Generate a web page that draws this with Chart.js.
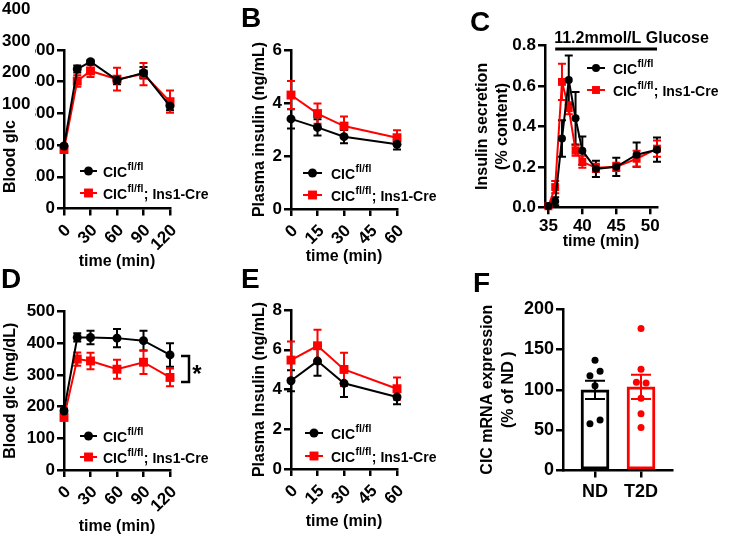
<!DOCTYPE html>
<html>
<head>
<meta charset="utf-8">
<script src="https://cdn.jsdelivr.net/npm/chart.js@4.4.1/dist/chart.umd.min.js"></script>
<style>
  html, body { margin: 0; padding: 0; background: #fff; }
  #wrap { position: relative; width: 733px; height: 541px; }
  #wrap canvas { position: absolute; left: 0; top: 0; }
</style>
</head>
<body>
<div id="wrap">
  <canvas id="panelA" width="733" height="541"></canvas>
  <canvas id="panelB" width="733" height="541"></canvas>
  <canvas id="panelC" width="733" height="541"></canvas>
  <canvas id="panelD" width="733" height="541"></canvas>
  <canvas id="panelE" width="733" height="541"></canvas>
  <canvas id="panelF" width="733" height="541"></canvas>
</div>
<script>
// ---- data ----
const seriesNames = [['CIC', 'fl/fl', ''], ['CIC', 'fl/fl', '; Ins1-Cre']];

// A: glucose tolerance (chow)
const gttTime = [0, 15, 30, 60, 90, 120];
const gttTicks = [0, 30, 60, 90, 120];
const gttCtl = [197, 440, 463, 405, 428, 323];
const gttCtlErr = [5, 11, 5, 13, 18, 13];
const gttKo = [186, 402, 434, 408, 424, 337];
const gttKoErr = [6, 18, 19, 36, 35, 35];
const glcTicks = [0, 100, 200, 300, 400, 500];
const strayTicks = ['400', '300', '200', '100'];

// B: plasma insulin (chow)
const insTime = [0, 15, 30, 60];
const insTicks = [0, 15, 30, 45, 60];
const insCtl = [3.40, 3.08, 2.73, 2.44];
const insCtlErr = [0.36, 0.31, 0.25, 0.19];
const insKo = [4.30, 3.60, 3.13, 2.69];
const insKoErr = [0.53, 0.38, 0.36, 0.28];
const insYTicks = [0, 2, 4, 6];

// C: perifusion
const perifTime = [35, 36, 37, 38, 39, 40, 42, 45, 48, 51];
const perifTicks = [35, 40, 45, 50];
const perifCtl = [0.006, 0.03, 0.34, 0.63, 0.44, 0.28, 0.19, 0.20, 0.26, 0.285];
const perifCtlErr = [0.005, 0.02, 0.09, 0.12, 0.13, 0.07, 0.04, 0.045, 0.06, 0.06];
const perifKo = [0.005, 0.10, 0.62, 0.49, 0.28, 0.225, 0.195, 0.20, 0.24, 0.29];
const perifKoErr = [0.005, 0.03, 0.09, 0.03, 0.025, 0.03, 0.02, 0.02, 0.04, 0.04];
const perifYTicks = [0, 0.2, 0.4, 0.6, 0.8];
const glucoseOn = [36, 51];

// D: glucose tolerance (HFD)
const hfdCtl = [186, 418, 418, 416, 408, 363];
const hfdCtlErr = [8, 13, 21, 29, 31, 37];
const hfdKo = [166, 350, 344, 318, 340, 292];
const hfdKoErr = [10, 21, 26, 30, 37, 28];

// E: plasma insulin (HFD)
const hfdInsCtl = [4.44, 5.43, 4.31, 3.62];
const hfdInsCtlErr = [0.53, 0.74, 0.69, 0.36];
const hfdInsKo = [5.48, 6.20, 5.01, 4.04];
const hfdInsKoErr = [0.94, 0.81, 0.84, 0.56];
const hfdInsYTicks = [0, 2, 4, 6, 8];

// F: human islets
const humanGroups = ['ND', 'T2D'];
const humanMean = [99.8, 103.5];
const humanSem = [11.4, 15.0];
const ndPoints = [136.6, 123.0, 117.2, 104.8, 62.5, 58.0];
const t2dPoints = [176.0, 125.5, 109.3, 108.5, 89.4, 70.4, 53.4];
const humanYTicks = [0, 50, 100, 150, 200];

// ---- styling ----
const W = 733, H = 541;
const FONT = "'Liberation Sans', Arial, Helvetica, sans-serif";
const BLACK = '#000000', RED = '#ff0000';
const TICK_FONT = { family: FONT, size: 17, weight: 'bold' };
const TITLE_FONT = { family: FONT, size: 16, weight: 'bold', lineHeight: 1.2 };
const ndJitter = [0, 0.11, -0.11, 0, 0.11, -0.11];
const t2dJitter = [0, 0, -0.1, 0.11, 0, 0, 0];

Chart.defaults.font.family = FONT;
Chart.defaults.color = BLACK;
Chart.defaults.animation = false;
Chart.defaults.plugins.legend.display = false;
Chart.defaults.plugins.tooltip.enabled = false;

function label(ctx, txt, x, y, size, opts) {
    opts = opts || {};
    ctx.save();
    ctx.font = 'bold ' + size + 'px ' + FONT;
    ctx.fillStyle = opts.color || BLACK;
    ctx.textAlign = opts.align || 'left';
    ctx.textBaseline = opts.baseline || 'alphabetic';
    ctx.translate(x, y);
    if (opts.rotate) ctx.rotate(opts.rotate);
    ctx.fillText(txt, 0, 0);
    ctx.restore();
}

function marker(ctx, style, r, x, y, color) {
    ctx.fillStyle = color;
    if (style === 'rect') {
        const s = r * Math.SQRT1_2;
        ctx.fillRect(x - s, y - s, 2 * s, 2 * s);
    } else {
        ctx.beginPath();
        ctx.arc(x, y, r, 0, Math.PI * 2);
        ctx.fill();
    }
}

function paintErrors(chart) {
    const ctx = chart.ctx, ys = chart.scales.y;
    chart.data.datasets.forEach((ds, di) => {
        if (!ds.errors) return;
        const meta = chart.getDatasetMeta(di);
        ctx.save();
        ctx.lineWidth = 2;
        meta.data.forEach((el, i) => {
            const v = ds.data[i].y, e = ds.errors[i];
            const col = Array.isArray(ds.borderColor) ? ds.borderColor[i] : ds.borderColor;
            const yt = ys.getPixelForValue(v + e), yb = ys.getPixelForValue(v - e);
            const c = ds.capHalf;
            ctx.strokeStyle = col;
            ctx.beginPath();
            ctx.moveTo(el.x, yt); ctx.lineTo(el.x, yb);
            ctx.moveTo(el.x - c, yt); ctx.lineTo(el.x + c, yt);
            ctx.moveTo(el.x - c, yb); ctx.lineTo(el.x + c, yb);
            ctx.stroke();
        });
        ctx.restore();
    });
}

const errorBarPlugin = {
    id: 'errorBars',
    beforeDatasetsDraw(chart, args, o) { if (!o.onTop) paintErrors(chart); },
    afterDatasetsDraw(chart, args, o) { if (o.onTop) paintErrors(chart); }
};

const seriesLegend = {
    id: 'seriesLegend',
    afterDraw(chart, args, o) {
        if (!o.rows) return;
        const ctx = chart.ctx;
        chart.data.datasets.forEach((ds, i) => {
            const y = o.rows[i];
            ctx.save();
            ctx.strokeStyle = ds.borderColor;
            ctx.lineWidth = 2;
            ctx.beginPath();
            ctx.moveTo(o.x0, y); ctx.lineTo(o.x1, y);
            ctx.stroke();
            marker(ctx, ds.pointStyle, ds.pointRadius, (o.x0 + o.x1) / 2, y, ds.borderColor);
            const [base, sup, rest] = seriesNames[i];
            ctx.fillStyle = BLACK;
            ctx.font = 'bold 14px ' + FONT;
            ctx.fillText(base, o.tx, y + 5.5);
            let x = o.tx + ctx.measureText(base).width + 0.5;
            ctx.font = 'bold 10.5px ' + FONT;
            ctx.fillText(sup, x, y - 1.5);
            x += ctx.measureText(sup).width + 0.5;
            ctx.font = 'bold 14px ' + FONT;
            ctx.fillText(rest, x, y + 5.5);
            ctx.restore();
        });
    }
};

const extras = {
    id: 'extras',
    afterDraw(chart, args, o) { if (o.draw) o.draw(chart.ctx, chart); }
};

function pts(xs, ys) { return xs.map((x, i) => ({ x: x, y: ys[i] })); }

function series(xs, ys, errs, color, style, r) {
    return {
        data: pts(xs, ys), errors: errs, capHalf: 4,
        borderColor: color, backgroundColor: color, borderWidth: 2,
        pointStyle: style, pointRadius: r, pointBackgroundColor: color,
        pointBorderWidth: 0, tension: 0, clip: false
    };
}

function axisBase(ticks, font) {
    return {
        type: 'linear',
        offset: false,
        afterBuildTicks: s => { s.ticks = ticks.map(v => ({ value: v })); },
        grid: { offset: false, drawOnChartArea: false, tickLength: 7, tickWidth: 2.5, lineWidth: 2.5, tickColor: BLACK },
        border: { color: BLACK, width: 2.5 },
        ticks: { font: font || TICK_FONT, color: BLACK, padding: 2, autoSkip: false }
    };
}

function makeLinePanel(id, p) {
    const lh = TITLE_FONT.size * TITLE_FONT.lineHeight;
    const yLeft = p.yTitleX - lh / 2;
    const xBottom = p.xTitleY + lh / 2;
    const a = p.area;

    const xs = axisBase(p.xTicks);
    xs.min = p.xMin; xs.max = p.xMax;
    xs.ticks.maxRotation = p.rot; xs.ticks.minRotation = p.rot;
    xs.ticks.padding = p.xPad;
    xs.ticks.labelOffset = p.rot ? 4 : 0;
    xs.title = { display: true, text: 'time (min)', font: TITLE_FONT, color: BLACK, padding: 0 };
    xs.afterFit = s => { s.height = xBottom - a.b; };

    const ys = axisBase(p.yTicks);
    ys.min = p.yTicks[0]; ys.max = p.yTicks[p.yTicks.length - 1];
    if (p.yFmt) ys.ticks.callback = p.yFmt;
    ys.title = { display: !!p.yTitle, text: p.yTitle, font: TITLE_FONT, color: BLACK, padding: 0 };
    ys.afterFit = s => { s.width = a.l - yLeft; };

    return new Chart(document.getElementById(id), {
        type: 'line',
        data: {
            datasets: [
                series(p.x, p.ctl, p.ctlErr, BLACK, 'circle', p.r),
                series(p.x, p.ko, p.koErr, RED, 'rect', p.r * 1.4)
            ]
        },
        options: {
            responsive: false,
            devicePixelRatio: 1,
            layout: { padding: { left: yLeft, top: a.t, right: W - a.r, bottom: H - xBottom } },
            scales: { x: xs, y: ys },
            plugins: {
                errorBars: { onTop: false },
                seriesLegend: p.legend,
                extras: { draw: p.draw }
            }
        },
        plugins: [errorBarPlugin, seriesLegend, extras]
    });
}

// A
makeLinePanel('panelA', {
    area: { l: 64, r: 170, t: 50, b: 208.5 }, yTitleX: 11, xTitleY: 262, yTitle: null,
    x: gttTime, xTicks: gttTicks, xMin: 0, xMax: 120, rot: 45, xPad: 5,
    yTicks: glcTicks, ctl: gttCtl, ctlErr: gttCtlErr, ko: gttKo, koErr: gttKoErr, r: 4.5,
    legend: { x0: 80, x1: 97, tx: 103, rows: [171, 193] },
    draw: ctx => {
        ctx.fillStyle = '#fff';
        ctx.fillRect(0, 0, 35, 200);
        strayTicks.forEach((t, i) => label(ctx, t, 2, 9.5 + i * 31.5, 17, { baseline: 'middle' }));
        label(ctx, 'Blood glc', 11, 193, 16, { baseline: 'middle', rotate: -Math.PI / 2 });
    }
});

// B
makeLinePanel('panelB', {
    area: { l: 291, r: 397, t: 50, b: 209 }, yTitleX: 260, xTitleY: 257, yTitle: 'Plasma insulin (ng/mL)',
    x: insTime, xTicks: insTicks, xMin: 0, xMax: 60, rot: 45, xPad: 5,
    yTicks: insYTicks, ctl: insCtl, ctlErr: insCtlErr, ko: insKo, koErr: insKoErr, r: 4.5,
    legend: { x0: 303, x1: 322, tx: 331, rows: [173, 195] },
    draw: ctx => label(ctx, 'B', 241, 27, 28)
});

// C
makeLinePanel('panelC', {
    area: { l: 545, r: 657, t: 45.5, b: 207.3 }, yTitleX: 483, xTitleY: 242,
    yTitle: ['Insulin secretion', '(% content)'],
    x: perifTime, xTicks: perifTicks, xMin: 34.5, xMax: 51, rot: 0, xPad: 2,
    yTicks: perifYTicks, yFmt: v => v.toFixed(1),
    ctl: perifCtl, ctlErr: perifCtlErr, ko: perifKo, koErr: perifKoErr, r: 4,
    legend: { x0: 587, x1: 605, tx: 613, rows: [68, 90] },
    draw: (ctx, chart) => {
        const xs = chart.scales.x;
        const x0 = xs.getPixelForValue(glucoseOn[0]), x1 = xs.getPixelForValue(glucoseOn[1]);
        ctx.save();
        ctx.strokeStyle = BLACK; ctx.lineWidth = 3;
        ctx.beginPath(); ctx.moveTo(x0, 49); ctx.lineTo(x1, 49); ctx.stroke();
        ctx.restore();
        label(ctx, '11.2mmol/L Glucose', x0 - 1, 43, 16);
        label(ctx, 'C', 470, 31, 28);
    }
});

// D
makeLinePanel('panelD', {
    area: { l: 64, r: 170, t: 311.5, b: 470 }, yTitleX: 11, xTitleY: 527, yTitle: 'Blood glc (mg/dL)',
    x: gttTime, xTicks: gttTicks, xMin: 0, xMax: 120, rot: 45, xPad: 5,
    yTicks: glcTicks, ctl: hfdCtl, ctlErr: hfdCtlErr, ko: hfdKo, koErr: hfdKoErr, r: 4.5,
    legend: { x0: 80, x1: 97, tx: 103, rows: [436, 457] },
    draw: ctx => {
        ctx.save();
        ctx.strokeStyle = BLACK; ctx.lineWidth = 2.5;
        ctx.beginPath();
        ctx.moveTo(181, 356); ctx.lineTo(189, 356); ctx.lineTo(189, 382); ctx.lineTo(181, 382);
        ctx.stroke();
        ctx.restore();
        label(ctx, '*', 197, 382, 24, { align: 'center' });
        label(ctx, 'D', 1, 288, 28);
    }
});

// E
makeLinePanel('panelE', {
    area: { l: 291, r: 397, t: 310, b: 469 }, yTitleX: 260, xTitleY: 522, yTitle: 'Plasma Insulin (ng/mL)',
    x: insTime, xTicks: insTicks, xMin: 0, xMax: 60, rot: 45, xPad: 5,
    yTicks: hfdInsYTicks, ctl: hfdInsCtl, ctlErr: hfdInsCtlErr, ko: hfdInsKo, koErr: hfdInsKoErr, r: 4.5,
    legend: { x0: 305, x1: 323, tx: 331, rows: [433, 456] },
    draw: ctx => label(ctx, 'E', 241, 288, 28)
});

// F
(function () {
    const a = { l: 563, r: 672, t: 309, b: 470.5 };
    const tf = { family: FONT, size: 16, weight: 'bold', lineHeight: 1.3 };
    const yLeft = 488 - tf.size * tf.lineHeight / 2;
    const xs = axisBase([0, 1], { family: FONT, size: 18, weight: 'bold' });
    xs.min = -0.696; xs.max = 1.674;
    xs.ticks.padding = 4;
    xs.ticks.maxRotation = 0; xs.ticks.minRotation = 0;
    xs.ticks.callback = v => humanGroups[v];
    xs.afterFit = s => { s.height = 45; };
    const ys = axisBase(humanYTicks, { family: FONT, size: 18, weight: 'bold' });
    ys.min = 0; ys.max = 200;
    ys.title = { display: true, text: ['CIC mRNA expression', '(% of ND )'], font: tf, color: BLACK, padding: 0 };
    ys.afterFit = s => { s.width = a.l - yLeft; };

    new Chart(document.getElementById('panelF'), {
        type: 'bar',
        data: {
            datasets: [
                {
                    type: 'bar', order: 2,
                    data: humanGroups.map((g, i) => ({ x: i, y: humanMean[i] })),
                    errors: humanSem, capHalf: 10,
                    backgroundColor: '#ffffff', borderColor: [BLACK, RED],
                    borderWidth: 3, borderSkipped: false, barThickness: 28
                },
                {
                    type: 'scatter', order: 0,
                    data: ndPoints.map((v, i) => ({ x: ndJitter[i], y: v })),
                    pointRadius: 3.5, backgroundColor: BLACK, borderWidth: 0, clip: false
                },
                {
                    type: 'scatter', order: 0,
                    data: t2dPoints.map((v, i) => ({ x: 1 + t2dJitter[i], y: v })),
                    pointRadius: 3.5, backgroundColor: RED, borderWidth: 0, clip: false
                }
            ]
        },
        options: {
            responsive: false,
            devicePixelRatio: 1,
            layout: { padding: { left: yLeft, top: a.t, right: W - a.r, bottom: H - a.b - 45 } },
            scales: { x: xs, y: ys },
            plugins: {
                errorBars: { onTop: true },
                extras: { draw: ctx => label(ctx, 'F', 473, 292, 28) }
            }
        },
        plugins: [errorBarPlugin, extras]
    });
})();
</script>
</body>
</html>
